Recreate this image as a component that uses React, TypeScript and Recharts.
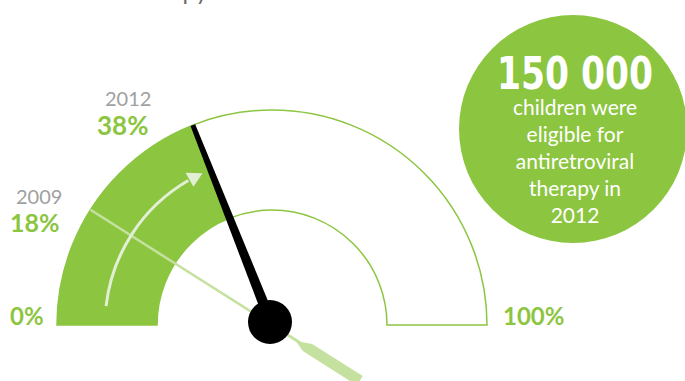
import React from 'react';
import { PieChart, Pie, Cell } from 'recharts';

// ---------- data ----------
const scaleMin = 0;
const scaleMax = 100;
const years = ['2009', '2012'];
const coverage = [18, 38];
const scaleLabels = ['0%', '100%'];
const headline = '150 000';
const circleLines = ['children were', 'eligible for', 'antiretroviral', 'therapy in', '2012'];
const titleTail = 'therapy';

// ---------- style ----------
const W = 685;
const H = 381;
const GREEN = '#8cc540';
const LIGHT = '#c5e1a0';
const ARROW = '#e2efd5';
const GRAY = '#a0a0a0';
const FONT = 'Lato, "Noto Sans", sans-serif';
const CX = 272;
const CY = 325;
const R_IN = 115;
const R_OUT = 215;

const rad = (a: number) => (a * Math.PI) / 180;
const pt = (cx: number, cy: number, r: number, a: number): [number, number] => [
  cx + r * Math.cos(rad(a)),
  cy - r * Math.sin(rad(a)),
];
const poly = (pts: [number, number][]) => pts.map((p) => `${p[0].toFixed(2)},${p[1].toFixed(2)}`).join(' ');

// point at distance r along angle a, offset w perpendicular
const off = (cx: number, cy: number, r: number, a: number, w: number): [number, number] => {
  const [x, y] = pt(cx, cy, r, a);
  const nx = Math.sin(rad(a));
  const ny = Math.cos(rad(a));
  return [x + nx * w, y + ny * w];
};

const renderScale = (p: any) => {
  if (p.index !== 0) return null;
  const cx = p.cx ?? CX;
  const cy = p.cy ?? CY;
  const ro = p.outerRadius ?? R_OUT;
  return (
    <g>
      <text x={cx - ro - 47} y={cy} fill={GREEN} fontFamily={FONT} fontWeight={700} fontSize={24}>
        {scaleLabels[0]}
      </text>
      <text x={cx + ro + 16} y={cy} fill={GREEN} fontFamily={FONT} fontWeight={700} fontSize={24}>
        {scaleLabels[1]}
      </text>
    </g>
  );
};

const render2009 = (p: any) => {
  if (p.index !== 0) return null;
  const cx = p.cx ?? CX;
  const cy = p.cy ?? CY;
  const ro = p.outerRadius ?? R_OUT;
  const a = p.endAngle;
  const b = a + 180;
  const [x1, y1] = pt(cx, cy, ro, a);
  const tail: [number, number][] = [
    off(cx, cy, 0, b, -1.5),
    off(cx, cy, 34, b, -1.5),
    off(cx, cy, 44, b, -5.5),
    off(cx, cy, 104, b, -5.5),
    off(cx, cy, 104, b, 5.5),
    off(cx, cy, 40, b, 5.5),
    off(cx, cy, 30, b, 1.5),
    off(cx, cy, 0, b, 1.5),
  ];
  return (
    <g>
      <line x1={x1} y1={y1} x2={cx} y2={cy} stroke={LIGHT} strokeWidth={2.5} />
      <polygon points={poly(tail)} fill={LIGHT} />
      <text x={16} y={204} fill={GRAY} fontFamily={FONT} fontWeight={400} fontSize={20}>
        {years[0]}
      </text>
      <text x={10} y={232} fill={GREEN} fontFamily={FONT} fontWeight={700} fontSize={25}>
        {`${coverage[0]}%`}
      </text>
    </g>
  );
};

const render2012 = (p: any) => {
  if (p.index !== 0) return null;
  const cx = p.cx ?? CX;
  const cy = p.cy ?? CY;
  const ro = p.outerRadius ?? R_OUT;
  const a = p.endAngle;
  // needle
  const needle: [number, number][] = [
    off(cx, cy, ro, a, -2.5),
    off(cx, cy, ro, a, 2.5),
    off(cx, cy, 0, a, 5.5),
    off(cx, cy, 0, a, -5.5),
  ];
  // curved arrow
  const rA = 167;
  const startA = 173.5;
  const tipA = a + 3;
  const baseA = tipA + 5;
  const [sx, sy] = pt(cx, cy, rA, startA);
  const [ex, ey] = pt(cx, cy, rA, baseA + 0.5);
  const head: [number, number][] = [pt(cx, cy, rA, tipA), pt(cx, cy, rA + 8, baseA), pt(cx, cy, rA - 8, baseA)];
  return (
    <g>
      <path d={`M${sx},${sy} A${rA},${rA} 0 0 1 ${ex},${ey}`} fill="none" stroke={ARROW} strokeWidth={3} />
      <polygon points={poly(head)} fill={ARROW} />
      <polygon points={poly(needle)} fill="#000" />
      <circle cx={cx - 2} cy={cy - 3} r={22} fill="#000" />
      <text x={105} y={106} fill={GRAY} fontFamily={FONT} fontWeight={400} fontSize={20}>
        {years[1]}
      </text>
      <text x={97} y={135} fill={GREEN} fontFamily={FONT} fontWeight={700} fontSize={26}>
        {`${coverage[1]}%`}
      </text>
    </g>
  );
};

export default function App() {
  const bgData = [{ name: 'scale', value: scaleMax - scaleMin }];
  const fillData = [
    { name: years[1], value: coverage[1] - scaleMin },
    { name: 'rest', value: scaleMax - coverage[1] },
  ];
  const d2009 = [
    { name: years[0], value: coverage[0] - scaleMin },
    { name: 'rest', value: scaleMax - coverage[0] },
  ];
  const d2012 = [
    { name: years[1], value: coverage[1] - scaleMin },
    { name: 'rest', value: scaleMax - coverage[1] },
  ];
  const common = {
    dataKey: 'value',
    cx: CX,
    cy: CY,
    startAngle: 180,
    endAngle: 0,
    innerRadius: R_IN,
    outerRadius: R_OUT,
    isAnimationActive: false,
    labelLine: false,
  };
  return (
    <div style={{ position: 'absolute', left: 0, top: 0, width: W, height: H, background: '#fff', overflow: 'hidden' }}>
      <div style={{ position: 'absolute', left: 0, top: 0 }}>
        <PieChart width={W} height={H} margin={{ top: 0, right: 0, bottom: 0, left: 0 }}>
          <Pie {...common} data={bgData} fill="#fff" stroke={GREEN} strokeWidth={1.5} label={renderScale} />
          <Pie {...common} data={fillData} stroke="none" label={false}>
            <Cell fill={GREEN} stroke="none" />
            <Cell fill="none" stroke="none" />
          </Pie>
          <Pie {...common} data={d2009} fill="none" stroke="none" label={render2009}>
            <Cell fill="none" stroke="none" />
            <Cell fill="none" stroke="none" />
          </Pie>
          <Pie {...common} data={d2012} fill="none" stroke="none" label={render2012}>
            <Cell fill="none" stroke="none" />
            <Cell fill="none" stroke="none" />
          </Pie>
        </PieChart>
      </div>
      <svg width={W} height={H} style={{ position: 'absolute', left: 0, top: 0, pointerEvents: 'none' }}>
        <text x={208} y={0} textAnchor="end" fill="#6e6e6e" fontFamily={FONT} fontSize={24}>
          {titleTail}
        </text>
        <circle cx={573} cy={129} r={114} fill={GREEN} />
        <text
          x={575}
          y={89}
          textAnchor="middle"
          fill="#fff"
          fontFamily='"Liberation Sans Narrow", "DejaVu Sans Condensed", sans-serif'
          fontWeight={700}
          fontSize={45}
          textLength={156}
          lengthAdjust="spacingAndGlyphs"
        >
          {headline}
        </text>
        {circleLines.map((t, i) => (
          <text
            key={t}
            x={575}
            y={115 + i * 27}
            textAnchor="middle"
            fill="#fff"
            fontFamily={FONT}
            fontWeight={400}
            fontSize={21}
          >
            {t}
          </text>
        ))}
      </svg>
    </div>
  );
}
